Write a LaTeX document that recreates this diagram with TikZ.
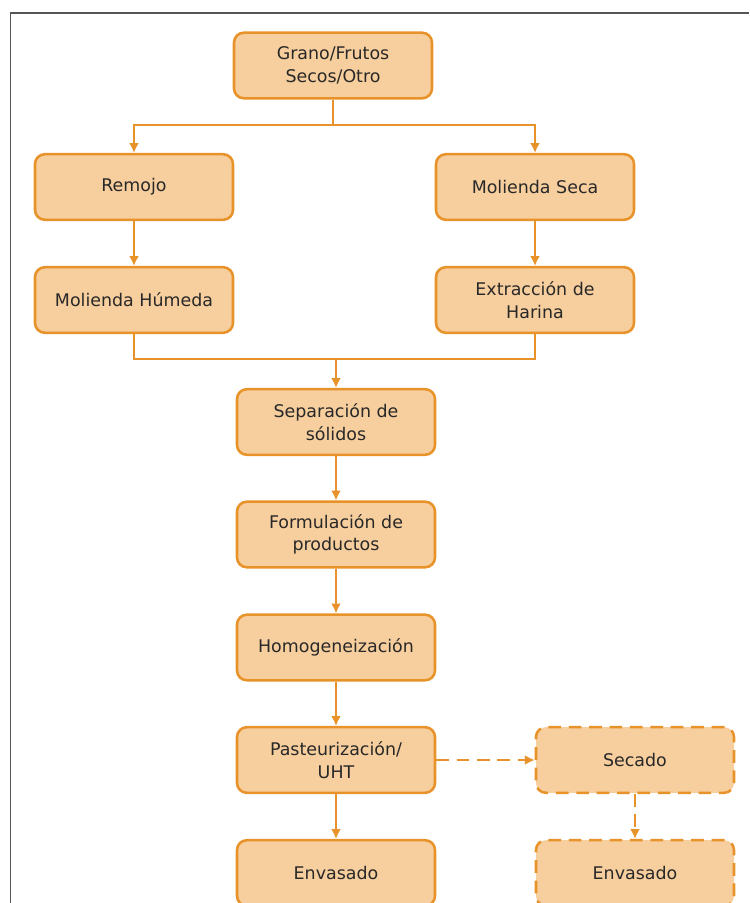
\documentclass[tikz,border=0pt]{standalone}
\usepackage{fontspec}
\setmainfont{DejaVu Sans}
\usepackage{tikz}
\usetikzlibrary{arrows.meta}
\definecolor{boxline}{RGB}{232,146,42}
\definecolor{boxfill}{RGB}{247,206,157}
\definecolor{boxtext}{RGB}{40,40,40}
\definecolor{framegray}{RGB}{85,85,85}

\begin{document}
\begin{tikzpicture}[
    stepbox/.style={draw=boxline,fill=boxfill,text=boxtext,line width=1.8pt,
      rounded corners=7pt,minimum width=4.95cm,minimum height=1.64cm,
      align=center,font=\fontsize{12.4}{16}\selectfont},
    optbox/.style={stepbox,dash pattern=on 9pt off 5.5pt},
    flow/.style={draw=boxline,line width=1.4pt,-{Latex[length=7pt,width=7pt]}},
    link/.style={draw=boxline,line width=1.4pt}
  ]
      \clip (0,0) rectangle (18.725,-22.575);
      \useasboundingbox (0,0) rectangle (18.725,-22.575);
      \draw[framegray,line width=0.8pt] (18.725,-0.325) -- (0.2625,-0.325) -- (0.2625,-22.575);
      \node[stepbox] (grano) at (8.325,-1.6375) {Grano/Frutos\\Secos/Otro};
      \node[stepbox] (remojo) at (3.35,-4.675) {Remojo};
      \node[stepbox] (molseca) at (13.375,-4.675) {Molienda Seca};
      \node[stepbox] (molhum) at (3.35,-7.5) {Molienda Húmeda};
      \node[stepbox] (extrac) at (13.375,-7.5) {Extracción de\\Harina};
      \node[stepbox] (separ) at (8.4,-10.55) {Separación de\\sólidos};
      \node[stepbox] (formul) at (8.4,-13.3625) {Formulación de\\productos};
      \node[stepbox] (homog) at (8.4,-16.1875) {Homogeneización};
      \node[stepbox] (pasteur) at (8.4,-19.0) {Pasteurización/\\UHT};
      \node[stepbox] (envas) at (8.4,-21.825) {Envasado};
      \node[optbox] (secado) at (15.875,-19.0) {Secado};
      \node[optbox] (envasdos) at (15.875,-21.825) {Envasado};
      \coordinate (split) at (8.325,-3.125);
      \coordinate (join) at (8.4,-8.975);
      \path[link] (grano) -- (split);
      \path[flow] (split) -| (remojo);
      \path[flow] (split) -| (molseca);
      \path[flow] (remojo) -- (molhum);
      \path[flow] (molseca) -- (extrac);
      \path[link] (molhum) |- (join);
      \path[link] (extrac) |- (join);
      \path[flow] (join) -- (separ);
      \path[flow] (separ) -- (formul);
      \path[flow] (formul) -- (homog);
      \path[flow] (homog) -- (pasteur);
      \path[flow] (pasteur) -- (envas);
      \path[flow,dash pattern=on 9pt off 5.5pt] (pasteur) -- (secado);
      \path[flow,dash pattern=on 9pt off 5.5pt] (secado) -- (envasdos);
\end{tikzpicture}
\end{document}
